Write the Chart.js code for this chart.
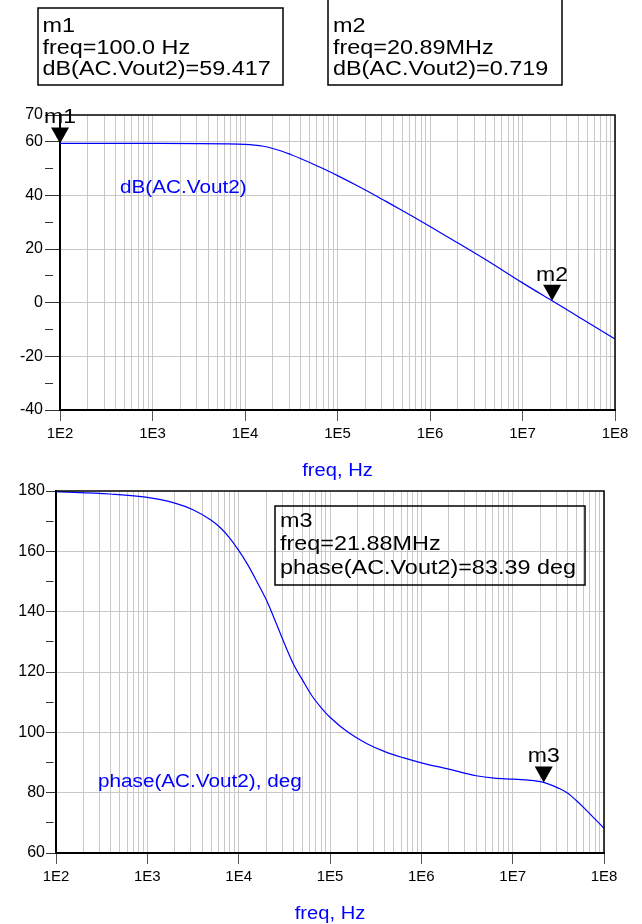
<!DOCTYPE html>
<html>
<head>
<meta charset="utf-8">
<script src="https://cdn.jsdelivr.net/npm/chart.js@4/dist/chart.umd.min.js"></script>
<style>
  html, body { margin: 0; padding: 0; background: #fff; }
  #c1 { position: absolute; left: 0; top: 0; }
  #c2 { position: absolute; left: 0; top: 480px; }
</style>
</head>
<body>
<canvas id="c1" width="642" height="480"></canvas>
<canvas id="c2" width="642" height="444"></canvas>
<script>
// ---------- data ----------
const dbFreq = [100, 1000, 3160, 6310, 10000, 12600, 15800, 20000, 25100, 31600, 39800, 50100, 63100, 79400, 100000, 158000, 251000, 398000, 631000, 1000000, 2000000, 3980000, 10000000, 20890000, 39800000, 100000000];
const dbVal  = [59.42, 59.40, 59.36, 59.25, 59.05, 58.8, 58.35, 57.5, 56.5, 55.2, 53.8, 52.3, 50.7, 49.1, 47.4, 43.9, 40.2, 36.3, 32.4, 28.4, 22.3, 16.1, 7.4, 0.72, -5.1, -13.5];

const phFreq = [100, 390, 1000, 2000, 3160, 5010, 6310, 7940, 10000, 12600, 15800, 20000, 25100, 31600, 39800, 50100, 63100, 79400, 100000, 158000, 251000, 398000, 631000, 1000000, 2000000, 3980000, 6310000, 10000000, 15800000, 21880000, 31600000, 39800000, 50100000, 63100000, 79400000, 100000000];
const phVal  = [179.8, 179.0, 177.9, 176.0, 173.8, 170.3, 167.8, 164.5, 160.3, 155.5, 150.0, 144.0, 137.0, 129.5, 122.6, 117.3, 112.2, 108.3, 105.0, 100.0, 96.3, 93.6, 91.6, 89.9, 87.8, 85.6, 84.8, 84.5, 84.1, 83.39, 81.5, 79.9, 77.3, 74.4, 71.3, 68.2];

const xDecades    = [1e2, 1e3, 1e4, 1e5, 1e6, 1e7, 1e8];
const xTickLabels = ['1E2', '1E3', '1E4', '1E5', '1E6', '1E7', '1E8'];
const xMinorMult  = [2, 3, 4, 5, 6, 7, 8, 9];

const dbMajorTicks = [-40, -20, 0, 20, 40, 60, 70];
const phMajorTicks = [60, 80, 100, 120, 140, 160, 180];

// markers
const m1 = { name: 'm1', f: 100, v: 59.417 };
const m2 = { name: 'm2', f: 20.89e6, v: 0.719 };
const m3 = { name: 'm3', f: 21.88e6, v: 83.39 };

const m1Lines = ['m1', 'freq=100.0 Hz', 'dB(AC.Vout2)=59.417'];
const m2Lines = ['m2', 'freq=20.89MHz', 'dB(AC.Vout2)=0.719'];
const m3Lines = ['m3', 'freq=21.88MHz', 'phase(AC.Vout2)=83.39 deg'];

const dbLabel = 'dB(AC.Vout2)';
const phLabel = 'phase(AC.Vout2), deg';
const xTitle = 'freq, Hz';

// ---------- helpers ----------
const FONT = '"Liberation Sans", Arial, sans-serif';
const BLUE = '#0000ff';
const GRID = '#c8c8c8';
const NONE = 'rgba(0,0,0,0)';

function allXTicks() {
  const t = [];
  for (let i = 0; i < xDecades.length - 1; i++) {
    t.push(xDecades[i]);
    xMinorMult.forEach(m => t.push(xDecades[i] * m));
  }
  t.push(xDecades[xDecades.length - 1]);
  return t;
}

function stext(ctx, str, x, y, size, color, align, sx) {
  ctx.save();
  ctx.font = size + 'px ' + FONT;
  ctx.fillStyle = color;
  ctx.textAlign = align || 'left';
  ctx.textBaseline = 'alphabetic';
  ctx.translate(x, y);
  ctx.scale(sx || 1.15, 1);
  ctx.fillText(str, 0, 0);
  ctx.restore();
}

function makeOverlay(cfg) {
  return {
    id: 'overlay',
    afterDraw(chart) {
      const { ctx, chartArea: a, scales } = chart;
      const xs = scales.x, ys = scales.y;
      ctx.save();
      // top & right frame
      ctx.strokeStyle = '#000';
      ctx.lineWidth = 1.5;
      ctx.beginPath();
      ctx.moveTo(a.left, a.top);
      ctx.lineTo(a.right, a.top);
      ctx.lineTo(a.right, a.bottom);
      ctx.stroke();
      // markers
      cfg.markers.forEach(m => {
        const px = xs.getPixelForValue(m.f);
        const py = ys.getPixelForValue(m.v);
        ctx.fillStyle = '#000';
        ctx.beginPath();
        ctx.moveTo(px, py);
        ctx.lineTo(px - 9, py - 16);
        ctx.lineTo(px + 9, py - 16);
        ctx.closePath();
        ctx.fill();
        stext(ctx, m.name, px, py - 20, 20, '#000', 'center', 1.15);
      });
      // readout boxes
      cfg.boxes.forEach(b => {
        ctx.strokeStyle = '#000';
        ctx.lineWidth = 1.5;
        ctx.strokeRect(b.x0, b.y0, b.x1 - b.x0, b.y1 - b.y0);
        b.lines.forEach((s, i) => stext(ctx, s, b.tx, b.ty[i], 20, '#000', 'left', 1.17));
      });
      // series label
      stext(ctx, cfg.series.text, cfg.series.x, cfg.series.y, 18, BLUE, 'left', 1.15);
      // x title
      stext(ctx, xTitle, (a.left + a.right) / 2, cfg.titleY, 17.5, BLUE, 'center', 1.15);
      ctx.restore();
    }
  };
}

function makeChart(canvas, freqs, vals, yMin, yMax, majors, geom, overlayCfg) {
  const pts = freqs.map((f, i) => ({ x: f, y: vals[i] }));
  const xt = allXTicks();
  return new Chart(canvas, {
    type: 'line',
    data: {
      datasets: [{
        data: pts,
        borderColor: BLUE,
        borderWidth: 1.2,
        pointRadius: 0,
        cubicInterpolationMode: 'monotone',
        fill: false
      }]
    },
    options: {
      responsive: false,
      animation: false,
      events: [],
      layout: { padding: { left: 0, right: geom.right, top: geom.top, bottom: 0 } },
      plugins: { legend: { display: false }, tooltip: { enabled: false } },
      scales: {
        x: {
          type: 'logarithmic',
          min: xDecades[0],
          max: xDecades[xDecades.length - 1],
          afterBuildTicks: s => { s.ticks = xt.map(v => ({ value: v })); },
          afterFit: s => { s.height = geom.xh; },
          border: { color: '#000', width: 2 },
          grid: {
            color: GRID,
            lineWidth: 1,
            tickLength: 11,
            tickColor: c => (c.tick && xDecades.includes(c.tick.value)) ? '#555' : NONE
          },
          ticks: {
            autoSkip: false,
            maxRotation: 0,
            minRotation: 0,
            padding: 4,
            color: '#000',
            font: { family: FONT, size: 15 },
            callback: (v) => { const i = xDecades.indexOf(v); return i >= 0 ? xTickLabels[i] : ''; }
          }
        },
        y: {
          min: yMin,
          max: yMax,
          afterFit: s => { s.width = geom.yw; },
          border: { color: '#000', width: 2 },
          grid: {
            lineWidth: 1,
            tickLength: geom.tl,
            color: c => (c.tick && majors.includes(c.tick.value) && c.tick.value !== yMin && c.tick.value !== yMax) ? GRID : NONE,
            tickColor: '#333',
            tickBorderDash: c => (c.tick && majors.includes(c.tick.value)) ? [] : [geom.minorTl, 100]
          },
          ticks: {
            stepSize: 10,
            autoSkip: false,
            padding: geom.tpad,
            color: '#000',
            font: { family: FONT, size: 16 },
            callback: (v) => majors.includes(v) ? String(v) : ''
          }
        }
      }
    },
    plugins: [makeOverlay(overlayCfg)]
  });
}

makeChart(document.getElementById('c1'), dbFreq, dbVal, -40, 70, dbMajorTicks,
  { right: 27, top: 115, xh: 70, yw: 60, tl: 15, minorTl: 8, tpad: 2 },
  {
    markers: [m1, m2],
    boxes: [
      { x0: 38, y0: 8, x1: 283, y1: 85, tx: 42.5, ty: [31.7, 53.5, 75], lines: m1Lines },
      { x0: 328, y0: -2, x1: 562, y1: 85, tx: 333, ty: [31.7, 53.5, 75], lines: m2Lines }
    ],
    series: { text: dbLabel, x: 120, y: 193 },
    titleY: 476
  });

makeChart(document.getElementById('c2'), phFreq, phVal, 60, 180, phMajorTicks,
  { right: 38, top: 11, xh: 71, yw: 56, tl: 10, minorTl: 7.5, tpad: 1 },
  {
    markers: [m3],
    boxes: [
      { x0: 275, y0: 26, x1: 585, y1: 105, tx: 280, ty: [47, 70, 94], lines: m3Lines }
    ],
    series: { text: phLabel, x: 98, y: 306.7 },
    titleY: 439
  });
</script>
</body>
</html>
